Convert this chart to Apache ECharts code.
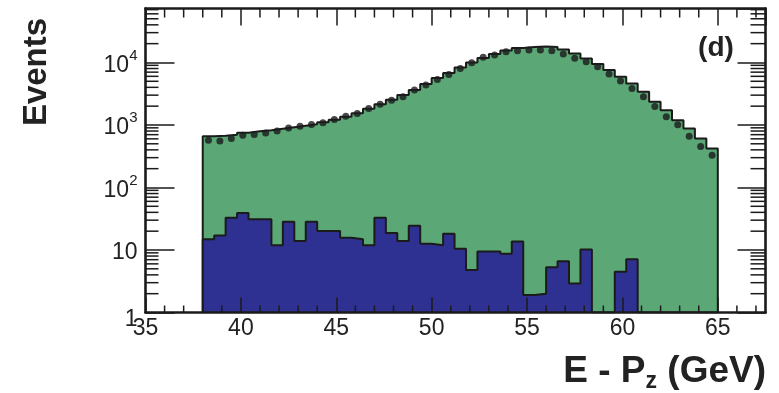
<!DOCTYPE html>
<html>
<head>
<meta charset="utf-8">
<script src="https://cdn.jsdelivr.net/npm/echarts@6/dist/echarts.min.js"></script>
<style>
  html, body { margin: 0; padding: 0; background: #ffffff; }
  #chart { width: 779px; height: 393px; }
</style>
</head>
<body>
<div id="chart"></div>
<script>
// E - Pz distribution: 45 bins of 0.6 GeV between 38 and 65 GeV (46 bin edges)
const binEdges = [38.0, 38.6, 39.2, 39.8, 40.4, 41.0, 41.6, 42.2, 42.8, 43.4, 44.0, 44.6,
  45.2, 45.8, 46.4, 47.0, 47.6, 48.2, 48.8, 49.4, 50.0, 50.6, 51.2, 51.8, 52.4, 53.0,
  53.6, 54.2, 54.8, 55.4, 56.0, 56.6, 57.2, 57.8, 58.4, 59.0, 59.6, 60.2, 60.8, 61.4,
  62.0, 62.6, 63.2, 63.8, 64.4, 65.0];

// Total simulation (green histogram)
const totalMC = [662, 670, 699, 753, 796, 825, 872, 922, 975, 1030, 1109, 1216, 1358,
  1546, 1825, 2154, 2543, 3003, 3612, 4506, 5623, 6764, 8284, 9963, 11765, 13630, 15510,
  17010, 17650, 17980, 17650, 16100, 13890, 11550, 9428, 7552, 5900, 4626, 3393, 2346,
  1727, 1194, 879, 608, 420];

// Background contribution (blue histogram); 0 = empty bin
const background = [14.8, 17.1, 32.9, 39.0, 30.9, 30.9, 11.9, 28.4, 13.9, 28.4, 20.1,
  20.1, 15.7, 14.8, 11.9, 32.9, 18.7, 13.9, 24.5, 12.6, 11.9, 18.2, 10.5, 4.8, 9.5, 9.5,
  8.7, 13.7, 1.9, 2.0, 5.3, 6.6, 2.9, 10.2, 0, 0, 4.5, 7.1, 0, 0, 0, 0, 0, 0, 0];

// Measured events (black points)
const dataCounts = [571, 556, 608, 686, 704, 747, 804, 898, 957, 1019, 1081, 1225, 1384,
  1529, 1839, 2154, 2496, 2820, 3612, 4343, 5360, 6400, 8041, 9890, 12070, 13140, 14840,
  15400, 15800, 15800, 15400, 13630, 11630, 10260, 8533, 6519, 5033, 3845, 2820, 1980,
  1348, 1011, 662, 452, 328];

// Axis ranges and tick positions
const X_MIN = 35, X_MAX = 67.5, X_STEP = 5;
const Y_MIN = 1, Y_MAX = 73000;
const xMinorTicks = [36, 37, 38, 39, 41, 42, 43, 44, 46, 47, 48, 49, 51, 52, 53, 54,
  56, 57, 58, 59, 61, 62, 63, 64, 66, 67];
const yMinorTicks = [2, 3, 4, 5, 6, 7, 8, 9, 20, 30, 40, 50, 60, 70, 80, 90,
  200, 300, 400, 500, 600, 700, 800, 900, 2000, 3000, 4000, 5000, 6000, 7000, 8000, 9000,
  20000, 30000, 40000, 50000, 60000, 70000];

const INK = '#1b1b1b';
const FONT = '"Liberation Sans", Arial, Helvetica, sans-serif';

// Step outline points for a histogram (drops to the axis floor at both ends)
function histogramSteps(values) {
  const floor = v => (v > 0 ? v : Y_MIN);
  const pts = [[binEdges[0], Y_MIN]];
  values.forEach((v, i) => pts.push([binEdges[i], floor(v)]));
  pts.push([binEdges[values.length], floor(values[values.length - 1])]);
  pts.push([binEdges[values.length], Y_MIN]);
  return pts;
}

const binCenters = dataCounts.map((_, i) => (binEdges[i] + binEdges[i + 1]) / 2);
const dataPoints = dataCounts.map((v, i) => [binCenters[i], v]);

function histSeries(name, values, fill, z) {
  return {
    name, type: 'line', step: 'end', symbol: 'none', z,
    data: histogramSteps(values),
    lineStyle: { color: INK, width: 2 },
    areaStyle: { color: fill, opacity: 1, origin: 'start' },
    silent: true, animation: false
  };
}

const logLabel = v => {
  const e = Math.round(Math.log10(v));
  if (e === 0) return '{lo|1}';
  if (e === 1) return '{b|10}';
  return '{b|10}{sup|' + e + '}';
};

const xAxisBase = {
  type: 'value', min: X_MIN, max: X_MAX, interval: X_STEP, z: 10,
  axisLine: { show: true, onZero: false, lineStyle: { color: INK, width: 2.6 } },
  splitLine: { show: false }
};
const yAxisBase = {
  type: 'log', logBase: 10, min: Y_MIN, max: Y_MAX, splitNumber: 5, z: 10,
  axisLine: { show: true, lineStyle: { color: INK, width: 2.6 } },
  splitLine: { show: false }
};

const chart = echarts.init(document.getElementById('chart'), null, { renderer: 'canvas' });
chart.setOption({
  animation: false,
  backgroundColor: '#ffffff',
  grid: { left: 145.5, right: 13.5, top: 8.5, bottom: 80.5, containLabel: false },
  xAxis: [
    Object.assign({}, xAxisBase, {
      position: 'bottom',
      axisTick: { inside: true, length: 15, lineStyle: { color: INK, width: 1.5 } },
      axisLabel: { show: true, showMaxLabel: false, margin: 5, color: '#222',
        fontSize: 23, fontFamily: FONT }
    }),
    Object.assign({}, xAxisBase, {
      position: 'top',
      axisTick: { inside: true, length: 17, lineStyle: { color: INK, width: 1.5 } },
      axisLabel: { show: false }
    })
  ],
  yAxis: [
    Object.assign({}, yAxisBase, {
      position: 'left',
      axisTick: { inside: true, length: 29, lineStyle: { color: INK, width: 1.5 } },
      axisLabel: {
        show: true, showMaxLabel: false, margin: 8, color: '#222', formatter: logLabel,
        rich: {
          b: { fontSize: 23, fontFamily: FONT, color: '#222', lineHeight: 23, padding: [6, 0, 0, 0] },
          sup: { fontSize: 15, fontFamily: FONT, color: '#222', lineHeight: 15, padding: [0, 0, 14, 0] },
          lo: { fontSize: 23, fontFamily: FONT, color: '#222', lineHeight: 23, padding: [14, 0, 0, 0] }
        }
      }
    }),
    Object.assign({}, yAxisBase, {
      position: 'right',
      axisTick: { inside: true, length: 28, lineStyle: { color: INK, width: 1.5 } },
      axisLabel: { show: false }
    })
  ],
  series: [
    histSeries('Total', totalMC, '#5ba775', 2),
    histSeries('Background', background, '#2e3192', 3),
    {
      name: 'Data', type: 'scatter', z: 5, symbol: 'circle', symbolSize: 7,
      itemStyle: { color: INK }, data: dataPoints, silent: true
    },
    {
      // minor ticks along the bottom and top frame
      name: 'xMinor', type: 'custom', z: 11, silent: true,
      data: xMinorTicks.map(x => [x, Y_MIN]),
      renderItem: (params, api) => {
        const p = api.coord([api.value(0), api.value(1)]);
        const cs = params.coordSys;
        const st = { stroke: INK, lineWidth: 1.5 };
        return { type: 'group', children: [
          { type: 'line', shape: { x1: p[0], y1: cs.y + cs.height, x2: p[0], y2: cs.y + cs.height - 7 }, style: st },
          { type: 'line', shape: { x1: p[0], y1: cs.y, x2: p[0], y2: cs.y + 9 }, style: st }
        ] };
      }
    },
    {
      // logarithmic minor ticks along the left and right frame
      name: 'yMinor', type: 'custom', z: 11, silent: true,
      data: yMinorTicks.map(v => [X_MIN, v]),
      renderItem: (params, api) => {
        const p = api.coord([api.value(0), api.value(1)]);
        const cs = params.coordSys;
        const st = { stroke: INK, lineWidth: 1.5 };
        return { type: 'group', children: [
          { type: 'line', shape: { x1: cs.x, y1: p[1], x2: cs.x + 13, y2: p[1] }, style: st },
          { type: 'line', shape: { x1: cs.x + cs.width, y1: p[1], x2: cs.x + cs.width - 15, y2: p[1] }, style: st }
        ] };
      }
    }
  ],
  graphic: [
    {
      type: 'text', x: 37, y: 72, rotation: Math.PI / 2, z: 20,
      style: { text: 'Events', font: 'bold 33px ' + FONT, fill: '#222',
        align: 'center', verticalAlign: 'middle' }
    },
    {
      type: 'text', x: 766, y: 393, z: 20,
      style: {
        text: '{b|E - P}{s|z}{b| (GeV)}', align: 'right', verticalAlign: 'bottom', fill: '#222',
        rich: {
          b: { font: 'bold 37px ' + FONT, fill: '#222', lineHeight: 42 },
          s: { font: 'bold 23px ' + FONT, fill: '#222', lineHeight: 23, padding: [19, 0, 0, 0] }
        }
      }
    },
    {
      type: 'text', x: 716, y: 48, z: 20,
      style: { text: '(d)', font: 'bold 28px ' + FONT, fill: '#222',
        align: 'center', verticalAlign: 'middle' }
    }
  ]
});
</script>
</body>
</html>
